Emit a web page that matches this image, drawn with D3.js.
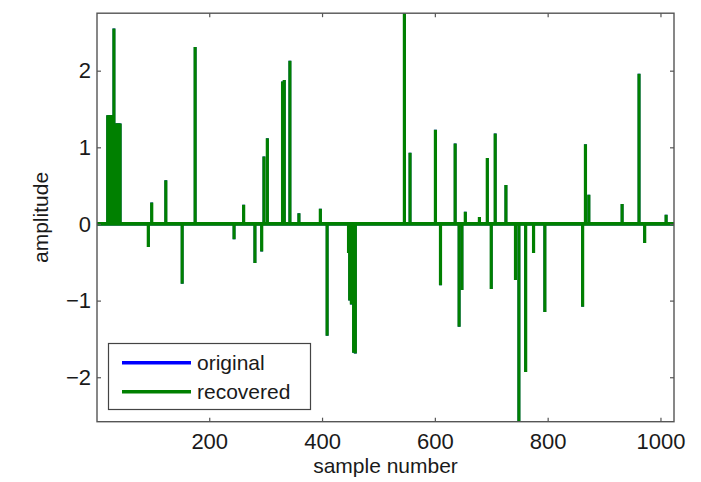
<!DOCTYPE html>
<html>
<head>
<meta charset="utf-8">
<script src="https://cdn.jsdelivr.net/npm/d3@7/dist/d3.min.js"></script>
<style>
  html, body { margin: 0; padding: 0; background: #fff; }
  svg { display: block; }
  text { font-family: "Liberation Sans", Arial, Helvetica, sans-serif; fill: #1a1a1a; }
</style>
</head>
<body>
<svg id="chart" width="701" height="482"></svg>
<script>
// Sparse signal: positions of the non-zero samples and their amplitudes
const sampleCount = 1024;
const spikeIndex = [
  20, 22, 24, 26, 28, 31, 34, 36, 38, 40, 42,
  92, 98, 123, 152, 175, 244, 261, 281, 293, 297, 303,
  330, 333, 343, 359, 397, 409, 447, 449, 452, 456, 459,
  546, 556, 601, 610, 636, 643, 648, 654, 679, 693, 700, 707, 726,
  743, 749, 761, 775, 795, 862, 867, 873, 932, 962, 972, 1010
];
const originalValues = [
  1.42, 1.42, 1.42, 1.42, 1.42, 2.55, 1.31, 1.31, 1.31, 1.31, 1.31,
  -0.30, 0.28, 0.57, -0.78, 2.31, -0.20, 0.25, -0.51, -0.36, 0.88, 1.12,
  1.86, 1.88, 2.13, 0.14, 0.20, -1.46, -0.38, -1.00, -1.05, -1.68, -1.69,
  2.75, 0.93, 1.23, -0.80, 1.05, -1.34, -0.86, 0.16, 0.09, 0.86, -0.85, 1.18, 0.51,
  -0.73, -2.58, -1.93, -0.38, -1.15, -1.08, 1.04, 0.38, 0.26, 1.96, -0.25, 0.12
];
// Reconstruction is exact, so it coincides with the original
const recoveredValues = originalValues.slice();

const xTicks = [200, 400, 600, 800, 1000];
const yTicks = [-2, -1, 0, 1, 2];
const legendLabels = ["original", "recovered"];
const seriesColors = ["#0000ff", "#008000"];

const series = [originalValues, recoveredValues].map(vals =>
  spikeIndex.map((n, i) => ({ n, v: vals[i] })));

const svg = d3.select("#chart");
const plotLeft = 97, plotRight = 674, plotTop = 13.2, plotBottom = 421.7;

const x = d3.scaleLinear().domain([1, sampleCount]).range([plotLeft, plotRight]);
const y = d3.scaleLinear()
  .domain([d3.min(originalValues), d3.max(originalValues)])
  .range([plotBottom, plotTop]);

svg.append("defs").append("clipPath").attr("id", "plotArea")
  .append("rect").attr("x", plotLeft).attr("y", plotTop)
  .attr("width", plotRight - plotLeft).attr("height", plotBottom - plotTop);

// signal traces: zero line plus one vertical stroke per non-zero sample
const traces = svg.append("g").attr("clip-path", "url(#plotArea)");
const widths = [2.6, 3.2];
series.forEach((s, i) => {
  const g = traces.append("g")
    .attr("stroke", seriesColors[i])
    .attr("stroke-width", widths[i])
    .attr("stroke-linecap", "butt");
  g.append("line")
    .attr("x1", x(1)).attr("x2", x(sampleCount))
    .attr("y1", y(0)).attr("y2", y(0))
    .attr("stroke-width", widths[i] + 0.6);
  g.selectAll("line.stem").data(s).join("line")
    .attr("class", "stem")
    .attr("x1", d => x(d.n)).attr("x2", d => x(d.n))
    .attr("y1", y(0)).attr("y2", d => y(d.v));
});

// axes box with inward ticks on all four sides
const axisColor = "#555";
const tickLen = 4;
const fmt = d3.format("d");
const gx = svg.append("g").attr("transform", `translate(0,${plotBottom})`)
  .call(d3.axisBottom(x).tickValues(xTicks).tickFormat(fmt)
    .tickSizeInner(-tickLen).tickSizeOuter(0).tickPadding(12));
const gxTop = svg.append("g").attr("transform", `translate(0,${plotTop})`)
  .call(d3.axisTop(x).tickValues(xTicks).tickSizeInner(-tickLen).tickSizeOuter(0).tickFormat(""));
const gy = svg.append("g").attr("transform", `translate(${plotLeft},0)`)
  .call(d3.axisLeft(y).tickValues(yTicks).tickFormat(fmt)
    .tickSizeInner(-tickLen).tickSizeOuter(0).tickPadding(6));
const gyRight = svg.append("g").attr("transform", `translate(${plotRight},0)`)
  .call(d3.axisRight(y).tickValues(yTicks).tickSizeInner(-tickLen).tickSizeOuter(0).tickFormat(""));

[gx, gxTop, gy, gyRight].forEach(g => {
  g.select(".domain").remove();
  g.selectAll(".tick line").attr("stroke", axisColor).attr("stroke-width", 1.2);
  g.selectAll("text").attr("font-size", 22)
    .attr("font-family", "Liberation Sans, Arial, sans-serif").attr("fill", "#1a1a1a");
});

svg.append("rect")
  .attr("x", plotLeft).attr("y", plotTop)
  .attr("width", plotRight - plotLeft).attr("height", plotBottom - plotTop)
  .attr("fill", "none").attr("stroke", axisColor).attr("stroke-width", 1.4);

// axis titles
svg.append("text")
  .attr("x", (plotLeft + plotRight) / 2).attr("y", 473)
  .attr("text-anchor", "middle").attr("font-size", 21)
  .text("sample number");
svg.append("text")
  .attr("transform", `translate(48,${(plotTop + plotBottom) / 2}) rotate(-90)`)
  .attr("text-anchor", "middle").attr("font-size", 21)
  .text("amplitude");

// legend
const lg = svg.append("g");
lg.append("rect")
  .attr("x", 108.5).attr("y", 343.5).attr("width", 202).attr("height", 66)
  .attr("fill", "#fff").attr("stroke", "#444").attr("stroke-width", 1.2);
legendLabels.forEach((lab, i) => {
  const cy = 362.7 + i * 29;
  lg.append("line")
    .attr("x1", 122).attr("x2", 191).attr("y1", cy).attr("y2", cy)
    .attr("stroke", seriesColors[i]).attr("stroke-width", 3.5);
  lg.append("text")
    .attr("x", 197).attr("y", cy).attr("dy", "0.36em")
    .attr("font-size", 21)
    .text(lab);
});
</script>
</body>
</html>
